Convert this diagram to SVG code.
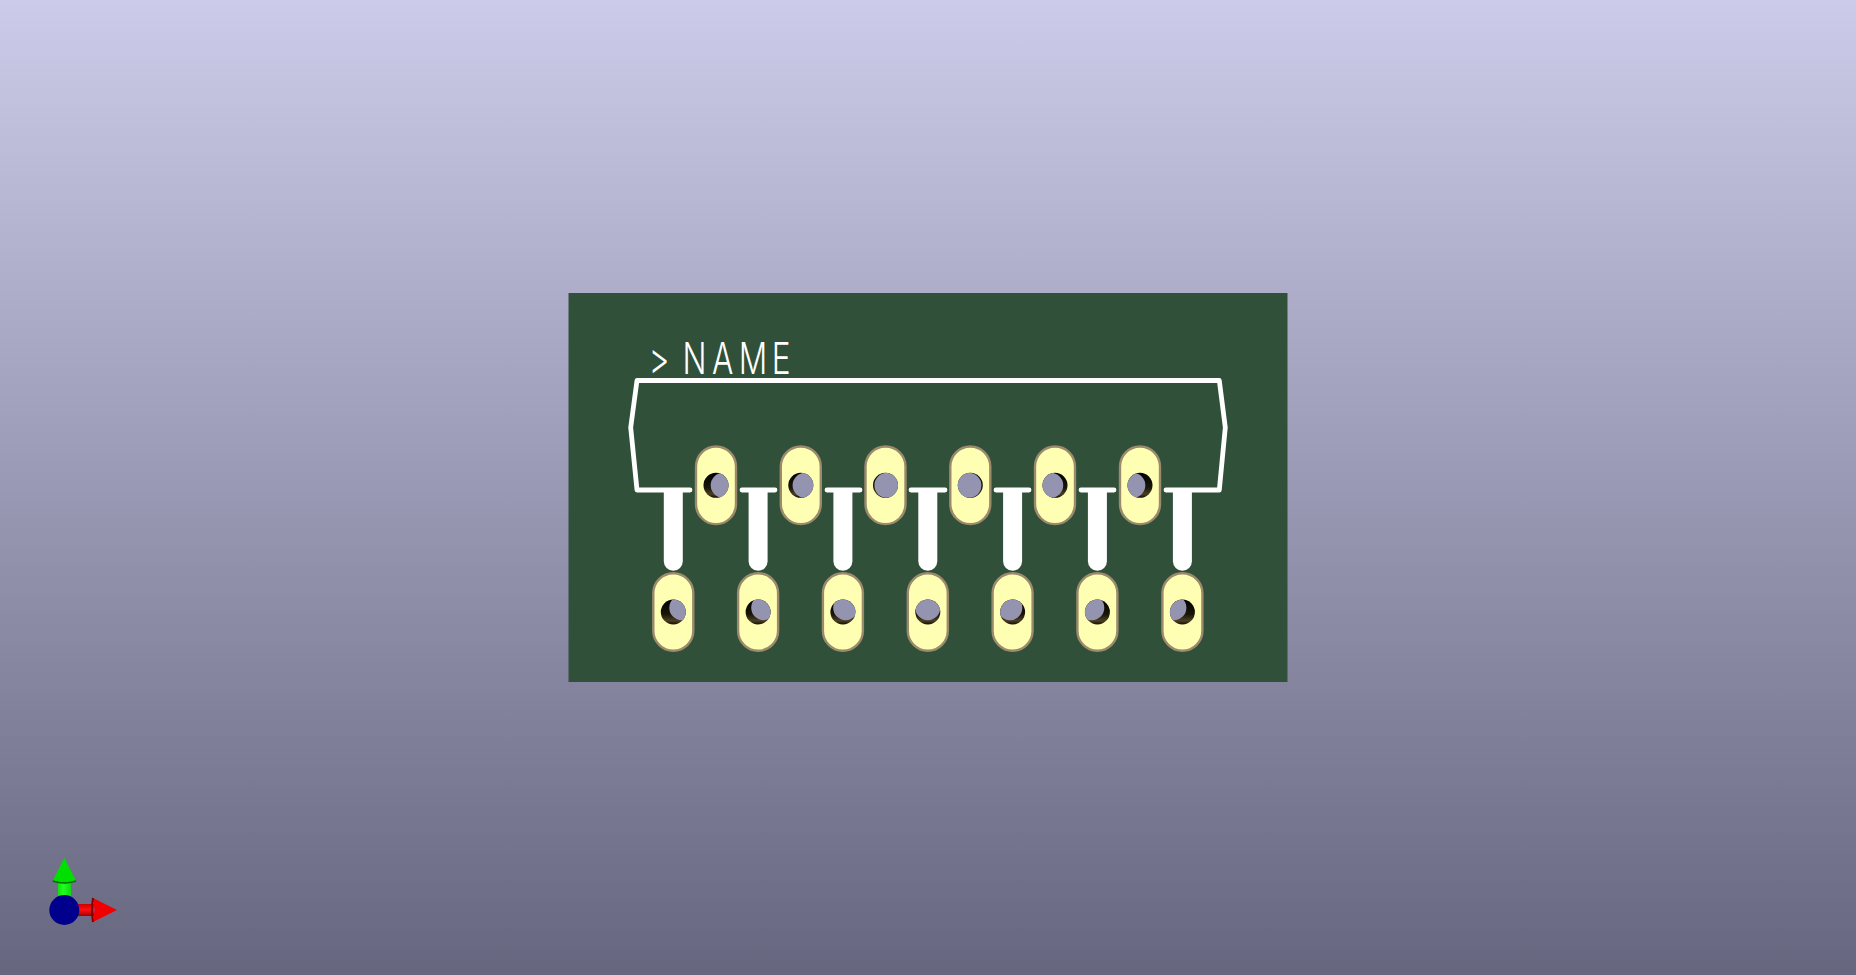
<svg xmlns="http://www.w3.org/2000/svg" width="1856" height="975" viewBox="0 0 1856 975">
<defs>
<style>
.pad{fill:#ffffb4;stroke:#9c8a6c;stroke-width:2.4}
.disc{fill:#9494b0}
.silk{fill:none;stroke:#fff;stroke-width:4.8;stroke-linecap:round;stroke-linejoin:round}
.name{font-family:"Inter","Lato",sans-serif;font-weight:300;font-size:44px;fill:#fff}
</style>
<linearGradient id="bg" x1="0" y1="0" x2="0" y2="1"><stop offset="0" stop-color="#ccccea"/><stop offset="1" stop-color="#66667f"/></linearGradient>
<linearGradient id="hole" x1="0" y1="0" x2="0" y2="1"><stop offset="0" stop-color="#000"/><stop offset="0.6" stop-color="#1a1608"/><stop offset="0.85" stop-color="#4a4020"/><stop offset="1" stop-color="#100c04"/></linearGradient>
<linearGradient id="gs" x1="0" y1="0" x2="1" y2="0"><stop offset="0" stop-color="#10e010"/><stop offset="0.4" stop-color="#20ff20"/><stop offset="1" stop-color="#10d810"/></linearGradient>
<linearGradient id="rs" x1="0" y1="0" x2="0" y2="1"><stop offset="0" stop-color="#d00000"/><stop offset="0.5" stop-color="#ff1010"/><stop offset="1" stop-color="#a00000"/></linearGradient>
<rect id="p" x="-20" y="-38.800" width="40" height="77.600" rx="20" ry="20" class="pad"/>
<circle id="h" r="12.5" fill="url(#hole)"/>
<path id="pin" d="M-9.500 490H9.500V561.200A9.500 9.500 0 0 1 -9.500 561.200Z" fill="#fff"/>
<clipPath id="c"><circle r="12.5"/></clipPath>
</defs>
<rect id="background" width="1856" height="975" fill="url(#bg)"/>
<rect id="board" x="568.5" y="293" width="719" height="389" fill="#30503a"/>
<g id="silkscreen">
<path class="silk" d="M690 490H637L630.700 427.500L637 380.500H1219.300L1225.300 427.500L1219.300 490H1166"/>
<path class="silk" d="M742 490H775M827 490H860M911 490H945M996 490H1029M1081 490H1114"/>
<use href="#pin" x="673.300"/>
<use href="#pin" x="758.100"/>
<use href="#pin" x="842.900"/>
<use href="#pin" x="927.800"/>
<use href="#pin" x="1012.600"/>
<use href="#pin" x="1097.400"/>
<use href="#pin" x="1182.400"/>
<text class="name" transform="scale(0.72 1)" y="374" x="901 948 989 1026 1072">&gt;NAME</text>
</g>
<g id="pads-top">
<g id="pad-t1" transform="translate(716 485.300)"><use href="#p"/><use href="#h"/><g clip-path="url(#c)"><circle class="disc" r="12.5" cx="7.200"/></g></g>
<g id="pad-t2" transform="translate(800.800 485.300)"><use href="#p"/><use href="#h"/><g clip-path="url(#c)"><circle class="disc" r="12.5" cx="4.300"/></g></g>
<g id="pad-t3" transform="translate(885.500 485.300)"><use href="#p"/><use href="#h"/><g clip-path="url(#c)"><circle class="disc" r="12.5" cx="1.400"/></g></g>
<g id="pad-t4" transform="translate(970.300 485.300)"><use href="#p"/><use href="#h"/><g clip-path="url(#c)"><circle class="disc" r="12.5" cx="-1.400"/></g></g>
<g id="pad-t5" transform="translate(1055 485.300)"><use href="#p"/><use href="#h"/><g clip-path="url(#c)"><circle class="disc" r="12.5" cx="-4.300"/></g></g>
<g id="pad-t6" transform="translate(1140 485.300)"><use href="#p"/><use href="#h"/><g clip-path="url(#c)"><circle class="disc" r="12.5" cx="-7.200"/></g></g>
</g>
<g id="pads-bottom">
<g id="pad-b1" transform="translate(673.300 612)"><use href="#p"/><use href="#h"/><g clip-path="url(#c)"><circle class="disc" r="12.5" cx="8.500" cy="-4.300"/></g></g>
<g id="pad-b2" transform="translate(758.100 612)"><use href="#p"/><use href="#h"/><g clip-path="url(#c)"><circle class="disc" r="12.5" cx="5.600" cy="-4.300"/></g></g>
<g id="pad-b3" transform="translate(842.900 612)"><use href="#p"/><use href="#h"/><g clip-path="url(#c)"><circle class="disc" r="12.5" cx="2.800" cy="-4.300"/></g></g>
<g id="pad-b4" transform="translate(927.800 612)"><use href="#p"/><use href="#h"/><g clip-path="url(#c)"><circle class="disc" r="12.5" cx="0" cy="-4.300"/></g></g>
<g id="pad-b5" transform="translate(1012.600 612)"><use href="#p"/><use href="#h"/><g clip-path="url(#c)"><circle class="disc" r="12.5" cx="-2.800" cy="-4.300"/></g></g>
<g id="pad-b6" transform="translate(1097.400 612)"><use href="#p"/><use href="#h"/><g clip-path="url(#c)"><circle class="disc" r="12.5" cx="-5.600" cy="-4.300"/></g></g>
<g id="pad-b7" transform="translate(1182.400 612)"><use href="#p"/><use href="#h"/><g clip-path="url(#c)"><circle class="disc" r="12.5" cx="-8.500" cy="-4.300"/></g></g>
</g>
<g id="axes">
<rect x="58" y="880" width="13" height="22" fill="url(#gs)"/>
<path d="M52.700 881L64.300 857.700L76 881L64.300 883.500Z" fill="#00e000"/>
<path d="M52.700 881Q64.300 885 76 881" fill="none" stroke="#007000" stroke-width="1.500"/>
<rect x="76" y="904" width="18" height="12" fill="url(#rs)"/>
<path d="M93 898L117 910L93 922L94.500 910Z" fill="#f00000"/>
<path d="M93 898Q91 910 93 922" fill="none" stroke="#800000" stroke-width="2"/>
<circle cx="64.300" cy="910" r="15" fill="#00008c"/>
</g>
</svg>
